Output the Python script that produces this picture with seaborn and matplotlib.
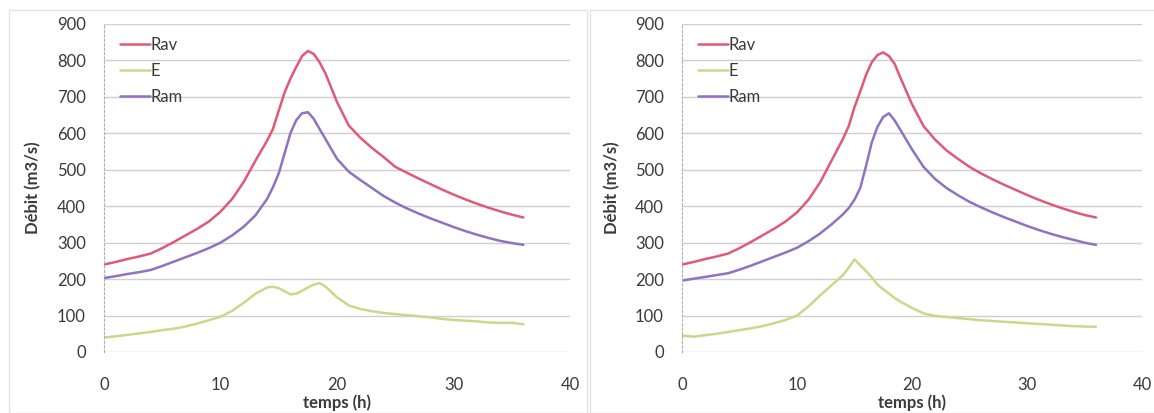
import matplotlib.pyplot as plt
import matplotlib.patches as mpatches
import numpy as np
import pandas as pd
import seaborn as sns

# time grid (h): hourly, half-hourly around the peak
temps = list(range(0, 15)) + [14.5, 15, 15.5, 16, 16.5, 17, 17.5, 18, 18.5, 19] + list(range(20, 37))
temps = sorted(set(temps))

rav_left = [240, 247, 255, 262, 270, 285, 302, 320, 338, 358, 385, 420, 467, 525, 580,
            612, 662, 712, 750, 782, 812, 826, 818, 795, 765,
            686, 622, 588, 560, 535, 508, 492, 476, 461, 446, 432, 419, 407, 396, 386, 377, 369]
e_left = [40, 43, 47, 51, 55, 60, 64, 70, 78, 87, 97, 113, 135, 160, 177,
          179, 175, 167, 158, 160, 168, 177, 185, 189, 180,
          150, 128, 118, 112, 107, 104, 101, 98, 95, 91, 88, 86, 84, 81, 80, 80, 76]
ram_left = [203, 208, 214, 219, 225, 236, 248, 260, 272, 285, 300, 320, 344, 375, 420,
            452, 490, 545, 600, 636, 655, 658, 640, 612, 585,
            530, 495, 472, 450, 428, 410, 394, 380, 367, 355, 343, 332, 322, 313, 305, 299, 294]

rav_right = [240, 247, 255, 262, 270, 285, 302, 320, 338, 358, 383, 418, 465, 525, 585,
             620, 672, 715, 760, 795, 815, 822, 812, 790, 752,
             680, 620, 583, 553, 530, 508, 490, 474, 459, 445, 431, 418, 406, 395, 385, 376, 369]
e_right = [45, 42, 46, 50, 55, 60, 65, 71, 79, 88, 100, 125, 155, 183, 211,
           232, 254, 238, 222, 205, 185, 172, 160, 148, 138,
           121, 106, 99, 96, 93, 90, 87, 85, 83, 81, 79, 77, 75, 73, 71, 70, 69]
ram_right = [196, 201, 206, 211, 216, 226, 237, 249, 261, 273, 286, 304, 325, 350, 378,
             395, 418, 450, 510, 575, 618, 645, 655, 635, 609,
             556, 508, 475, 450, 430, 412, 397, 383, 370, 358, 346, 335, 325, 316, 308, 300, 294]

series_names = ['Rav', 'E', 'Ram']
colors = {'Rav': '#e05a78', 'E': '#c8da8a', 'Ram': '#8f72c2'}

sns.set_theme(style='white')
plt.rcParams['font.family'] = ['Lato', 'DejaVu Sans']
text_col = '#3a3a3a'
fs = 12

fig = plt.figure(figsize=(11.54, 4.13), dpi=100)
ax_left = fig.add_axes([104 / 1154, 1 - 352 / 413, 466 / 1154, 328 / 413])
ax_right = fig.add_axes([682 / 1154, 1 - 352 / 413, 460 / 1154, 328 / 413])

# faint chart-area borders
for x0, w in [(9 / 1154, 578 / 1154), (590 / 1154, 570 / 1154)]:
    fig.patches.append(mpatches.Rectangle((x0, 0.0), w, 1 - 10 / 413, transform=fig.transFigure,
                                          fill=False, edgecolor='#e2e2e2', linewidth=1))


def draw_panel(ax, rav, e, ram):
    n = len(temps)
    df = pd.DataFrame({
        'temps': temps * 3,
        'debit': rav + e + ram,
        'serie': ['Rav'] * n + ['E'] * n + ['Ram'] * n,
    })
    sns.lineplot(data=df, x='temps', y='debit', hue='serie', hue_order=series_names,
                 palette=colors, linewidth=1.8, ax=ax)
    ax.set_xlim(0, 40)
    ax.set_ylim(0, 900)
    ax.set_xticks(np.arange(0, 41, 10))
    ax.set_yticks(np.arange(0, 901, 100))
    ax.yaxis.grid(True, color='#cfcfcf', linewidth=1)
    ax.xaxis.grid(False)
    for side in ['top', 'right', 'bottom']:
        ax.spines[side].set_visible(False)
    ax.spines['left'].set_color('#b0b0b0')
    ax.spines['left'].set_linestyle((0, (2, 2)))
    ax.spines['left'].set_linewidth(0.8)
    ax.tick_params(axis='both', length=0, labelsize=fs, colors=text_col)
    ax.tick_params(axis='y', pad=13)
    ax.tick_params(axis='x', pad=18)
    ax.set_xlabel('temps (h)', fontsize=fs, fontweight='bold', color=text_col, va='center')
    ax.set_ylabel('Débit (m3/s)', fontsize=fs, fontweight='bold', color=text_col, va='center')
    ax.xaxis.set_label_coords(0.5, (352 - 403) / 328)
    ax.yaxis.set_label_coords((33 - 104) / 466, 0.5)
    ax.legend(loc='upper left', bbox_to_anchor=(0.034, 0.96), frameon=False,
              borderaxespad=0, borderpad=0,
              handlelength=1.8, handletextpad=0.05, labelspacing=0.6, fontsize=fs,
              labelcolor=text_col, title=None)


draw_panel(ax_left, rav_left, e_left, ram_left)
draw_panel(ax_right, rav_right, e_right, ram_right)

plt.savefig('out.png', dpi=100)
